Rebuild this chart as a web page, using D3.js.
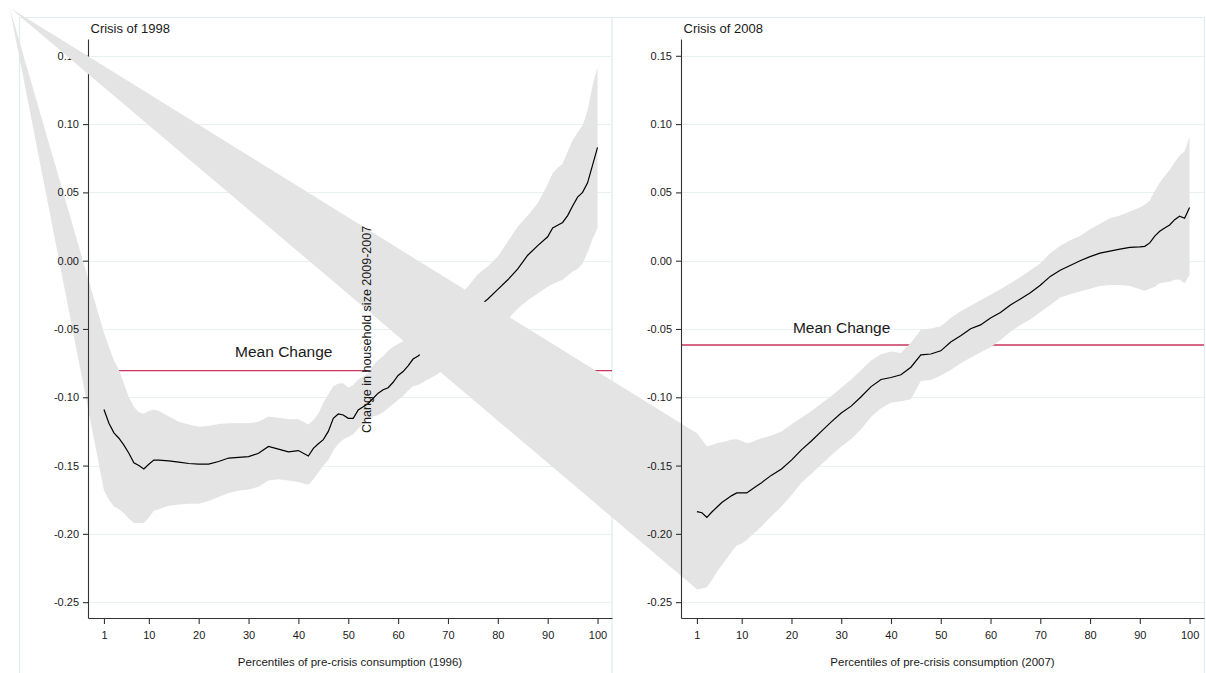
<!DOCTYPE html>
<html><head><meta charset="utf-8">
<script src="https://cdn.jsdelivr.net/npm/d3@7"></script>
<style>
body{margin:0;background:#fff}
svg text{font-family:"Liberation Sans",Arial,Helvetica,sans-serif;fill:#1a1a1a}
</style>
</head><body>
<svg id="chart" width="1206" height="673"></svg>
<script>
// ---------- DATA ----------
const xTicks = [1,10,20,30,40,50,60,70,80,90,100];
const yTicks = [-0.25,-0.20,-0.15,-0.10,-0.05,0.00,0.05,0.10,0.15];

const pct1998 = [1,2,3,4,5,6,7,8,9,10,11,12,
  14,16,18,20,22,24,26,28,30,32,34,36,38,40,42,
  43,44,45,46,47,48,49,50,51,52,53,54,55,56,57,58,59,60,61,62,63,64,
  66,68,70,72,74,76,78,80,82,84,86,88,90,
  91,92,93,94,95,96,97,98,99,100];
const mean1998 = [-0.109,-0.119,-0.126,-0.130,-0.135,-0.141,-0.148,-0.150,-0.1525,-0.149,-0.146,-0.146,
  -0.1465,-0.1475,-0.1485,-0.149,-0.149,-0.147,-0.1445,-0.144,-0.1435,-0.141,-0.136,-0.138,-0.140,-0.139,-0.143,
  -0.1374,-0.134,-0.131,-0.125,-0.1154,-0.1122,-0.113,-0.1154,-0.1154,-0.1093,-0.107,-0.1045,-0.1007,-0.097,-0.0945,-0.093,-0.089,-0.084,-0.0812,-0.077,-0.072,-0.0698,
  -0.064,-0.057,-0.050,-0.044,-0.039,-0.034,-0.028,-0.021,-0.014,-0.006,0.004,0.011,0.0175,
  0.024,0.026,0.028,0.033,0.040,0.0465,0.050,0.057,0.070,0.083];
const upper1998 = [-0.053,-0.063,-0.073,-0.080,-0.090,-0.100,-0.107,-0.111,-0.112,-0.110,-0.109,-0.110,
  -0.114,-0.118,-0.120,-0.1215,-0.121,-0.1195,-0.119,-0.119,-0.119,-0.118,-0.114,-0.115,-0.116,-0.116,-0.120,
  -0.1166,-0.112,-0.104,-0.098,-0.092,-0.090,-0.0898,-0.093,-0.091,-0.087,-0.085,-0.082,-0.077,-0.0727,-0.070,-0.066,-0.063,-0.061,-0.059,-0.055,-0.051,-0.048,
  -0.043,-0.037,-0.031,-0.026,-0.019,-0.010,-0.004,0.003,0.014,0.025,0.033,0.042,0.056,
  0.064,0.068,0.071,0.080,0.088,0.094,0.099,0.110,0.128,0.142];
const lower1998 = [-0.168,-0.175,-0.180,-0.182,-0.185,-0.189,-0.192,-0.192,-0.192,-0.188,-0.183,-0.182,
  -0.1795,-0.1785,-0.178,-0.178,-0.176,-0.173,-0.170,-0.1685,-0.1675,-0.1655,-0.161,-0.160,-0.161,-0.162,-0.164,
  -0.160,-0.155,-0.150,-0.146,-0.139,-0.134,-0.131,-0.129,-0.127,-0.123,-0.119,-0.116,-0.114,-0.113,-0.111,-0.108,-0.105,-0.102,-0.099,-0.095,-0.092,-0.091,
  -0.087,-0.083,-0.076,-0.069,-0.063,-0.057,-0.052,-0.047,-0.043,-0.035,-0.029,-0.024,-0.019,
  -0.017,-0.0155,-0.014,-0.011,-0.008,-0.006,-0.002,0.006,0.016,0.024];
const stray1998 = [-17.9, 0.185];   // stray vertex of the 1998 band polygon
const meanChange1998 = -0.0805;

const pct2008 = [1,2,3,4,5,6,7,8,9,10,11,12,13,14,
  16,18,20,22,24,26,28,30,32,34,
  36,38,40,42,44,46,48,50,52,54,
  56,58,60,62,64,66,68,70,72,74,
  76,78,80,82,84,86,88,90,
  91,92,93,94,95,96,97,98,99,100];
const mean2008 = [-0.1837,-0.1845,-0.1879,-0.184,-0.1805,-0.177,-0.1745,-0.172,-0.170,-0.170,-0.170,-0.1675,-0.165,-0.1625,
  -0.157,-0.1525,-0.146,-0.1385,-0.132,-0.125,-0.118,-0.1115,-0.1065,-0.0996,
  -0.0922,-0.087,-0.0855,-0.0835,-0.078,-0.069,-0.0683,-0.066,-0.0595,-0.055,
  -0.0498,-0.047,-0.042,-0.038,-0.0325,-0.028,-0.0235,-0.018,-0.0115,-0.007,
  -0.0035,0.0,0.003,0.0055,0.007,0.0085,0.0097,0.0101,
  0.0105,0.013,0.018,0.0215,0.024,0.0261,0.030,0.0325,0.031,0.039];
const upper2008 = [-0.1264,-0.131,-0.136,-0.135,-0.1337,-0.133,-0.132,-0.131,-0.1307,-0.132,-0.1337,-0.133,-0.1313,-0.130,
  -0.128,-0.125,-0.1198,-0.115,-0.110,-0.1045,-0.099,-0.093,-0.087,-0.080,
  -0.073,-0.0685,-0.0665,-0.0675,-0.060,-0.0505,-0.0497,-0.048,-0.042,-0.037,
  -0.033,-0.029,-0.025,-0.021,-0.0165,-0.012,-0.007,-0.002,0.0055,0.011,
  0.015,0.018,0.023,0.027,0.031,0.033,0.036,0.039,
  0.041,0.044,0.051,0.057,0.062,0.0664,0.072,0.077,0.080,0.0905];
const lower2008 = [-0.2405,-0.240,-0.239,-0.234,-0.228,-0.223,-0.218,-0.213,-0.2085,-0.207,-0.2045,-0.201,-0.198,-0.1945,
  -0.187,-0.180,-0.1715,-0.1625,-0.156,-0.1493,-0.1425,-0.136,-0.1305,-0.1235,
  -0.1142,-0.108,-0.104,-0.103,-0.1015,-0.088,-0.0873,-0.084,-0.080,-0.075,
  -0.071,-0.067,-0.0633,-0.058,-0.052,-0.047,-0.043,-0.0375,-0.0325,-0.027,
  -0.0245,-0.0225,-0.0205,-0.0185,-0.0178,-0.0178,-0.0185,-0.021,
  -0.022,-0.0205,-0.019,-0.0165,-0.0158,-0.0154,-0.014,-0.0138,-0.0165,-0.0105];
const stray2008 = [-137.0, 0.185];  // stray vertex of the 2008 band polygon
const meanChange2008 = -0.0617;

const titles = ["Crisis of 1998", "Crisis of 2008"];
const xTitles = ["Percentiles of pre-crisis consumption (1996)", "Percentiles of pre-crisis consumption (2007)"];
const yTitle = "Change in household size 2009-2007";
const meanLabel = "Mean Change";

// ---------- LAYOUT ----------
const svg = d3.select("#chart");
const W = 1206, H = 673;
const plotTop = 39, plotBottom = 618;
const xDomain = [-2.2, 102.9];
const yDomain = [-0.2616, 0.1623];
const y = d3.scaleLinear().domain(yDomain).range([plotBottom, plotTop]);
const frameColor = "#e2ebef", gridColor = "#e8f0f2";

const panels = [
  {pct:pct1998, mean:mean1998, upper:upper1998, lower:lower1998, stray:stray1998, mc:meanChange1998,
   title:titles[0], xTitle:xTitles[0], range:[88,612], labelAt:[27.3,-0.0703]},
  {pct:pct2008, mean:mean2008, upper:upper2008, lower:lower2008, stray:stray2008, mc:meanChange2008,
   title:titles[1], xTitle:xTitles[1], range:[681,1204], labelAt:[20.3,-0.053]}
];

// outer frames of the two graph regions
const fr = svg.append("g").attr("fill","none").attr("stroke",frameColor).attr("stroke-width",1.2);
fr.append("line").attr("x1",19.5).attr("x2",1204.5).attr("y1",17.5).attr("y2",17.5);
[19.5, 612, 1204.5].forEach(xx => fr.append("line").attr("x1",xx).attr("x2",xx).attr("y1",17.5).attr("y2",H));

panels.forEach(P => {
  const x = d3.scaleLinear().domain(xDomain).range(P.range);
  const g = svg.append("g");

  // grid
  g.append("g").selectAll("line").data(yTicks).join("line")
    .attr("x1",P.range[0]).attr("x2",P.range[1])
    .attr("y1",d=>Math.round(y(d))+0.5).attr("y2",d=>Math.round(y(d))+0.5)
    .attr("stroke",gridColor).attr("stroke-width",1);

  // mean change line
  g.append("line")
    .attr("x1",P.range[0]).attr("x2",P.range[1])
    .attr("y1",y(P.mc)).attr("y2",y(P.mc))
    .attr("stroke","#c8365c").attr("stroke-width",1.4);

  // confidence band (with its stray vertex)
  const pts = [P.stray]
    .concat(P.pct.map((p,i)=>[p,P.upper[i]]))
    .concat(P.pct.map((p,i)=>[p,P.lower[i]]).reverse());
  const line = d3.line().x(d=>x(d[0])).y(d=>y(d[1]));
  g.append("path").attr("d", line(pts)+"Z").attr("fill","#e4e4e4").attr("stroke","none");

  // estimate line
  g.append("path").attr("d", line(P.pct.map((p,i)=>[p,P.mean[i]])))
    .attr("fill","none").attr("stroke","#000").attr("stroke-width",1.2);

  // axes
  const ax = g.append("g").attr("transform",`translate(0,${plotBottom})`)
    .call(d3.axisBottom(x).tickValues(xTicks).tickSize(6).tickSizeOuter(0).tickPadding(7).tickFormat(d3.format("d")));
  const ay = g.append("g").attr("transform",`translate(${P.range[0]},0)`)
    .call(d3.axisLeft(y).tickValues(yTicks).tickSize(5).tickSizeOuter(0).tickPadding(4).tickFormat(d=>d.toFixed(2)));
  [ax,ay].forEach(a=>{
    a.selectAll("path,line").attr("stroke","#333").attr("stroke-width",1.1);
    a.selectAll("text").style("font-size","11px").attr("fill","#1a1a1a")
      .style("font-family","'Liberation Sans',Arial,sans-serif");
  });

  // labels
  g.append("text").attr("x",P.range[0]+2.5).attr("y",33).style("font-size","13px").text(P.title);
  g.append("text").attr("x",(P.range[0]+P.range[1])/2).attr("y",666).attr("text-anchor","middle")
    .style("font-size","11.5px").text(P.xTitle);
  g.append("text").attr("x",x(P.labelAt[0])).attr("y",y(P.labelAt[1]))
    .style("font-size","15.5px").text(meanLabel);
});

// misplaced vertical axis title
svg.append("text").attr("transform","translate(371,433) rotate(-90)")
  .style("font-size","12.5px").text(yTitle);
</script>
</body></html>
